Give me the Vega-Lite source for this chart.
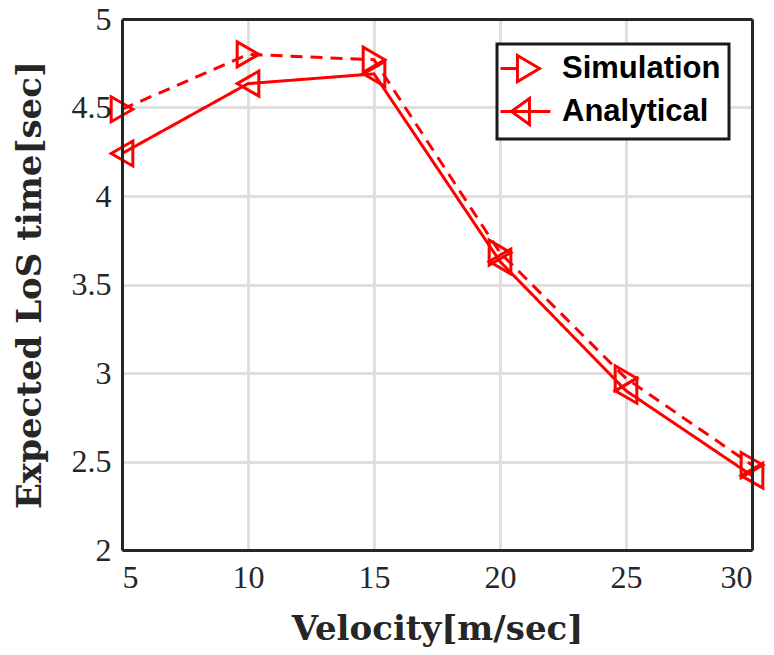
{
  "$schema": "https://vega.github.io/schema/vega-lite/v6.json",
  "autosize": "none",
  "width": 630,
  "height": 531,
  "padding": {"left": 122, "top": 19, "right": 22, "bottom": 105},
  "background": "white",
  "config": {
    "view": {"stroke": null},
    "legend": {"strokeWidth": 3},
    "axis": {
      "domainColor": "#262626",
      "domainWidth": 3,
      "tickColor": "#262626",
      "tickWidth": 3,
      "gridColor": "#dfdfdf",
      "gridWidth": 3,
      "labelFont": "Liberation Serif",
      "labelFontSize": 32,
      "labelColor": "#262626",
      "titleFont": "DejaVu Serif",
      "titleFontWeight": "bold",
      "titleFontSize": 34,
      "titleColor": "#262626"
    }
  },
  "data": {
    "values": [
      {"v": 5, "series": "Simulation", "t": 4.49},
      {"v": 10, "series": "Simulation", "t": 4.80},
      {"v": 15, "series": "Simulation", "t": 4.77},
      {"v": 20, "series": "Simulation", "t": 3.68},
      {"v": 25, "series": "Simulation", "t": 2.97},
      {"v": 30, "series": "Simulation", "t": 2.48},
      {"v": 5, "series": "Analytical", "t": 4.24},
      {"v": 10, "series": "Analytical", "t": 4.635},
      {"v": 15, "series": "Analytical", "t": 4.69},
      {"v": 20, "series": "Analytical", "t": 3.63},
      {"v": 25, "series": "Analytical", "t": 2.90},
      {"v": 30, "series": "Analytical", "t": 2.42}
    ]
  },
  "resolve": {"axis": {"x": "independent", "y": "independent"}},
  "layer": [
    {
      "mark": {"type": "point", "opacity": 0},
      "encoding": {
        "x": {
          "field": "v", "type": "quantitative",
          "scale": {"domain": [5, 30], "nice": false},
          "axis": {"orient": "bottom", "values": [5, 10, 15, 20, 25, 30], "grid": true, "domain": false, "ticks": false, "labels": false, "title": null, "zindex": 0}
        },
        "y": {
          "field": "t", "type": "quantitative",
          "scale": {"domain": [2, 5], "nice": false, "zero": false},
          "axis": {"orient": "left", "values": [2, 2.5, 3, 3.5, 4, 4.5, 5], "grid": true, "domain": false, "ticks": false, "labels": false, "title": null, "zindex": 0}
        }
      }
    },
    {
      "resolve": {"scale": {"shape": "independent"}},
      "layer": [
        {
          "mark": {"type": "line", "color": "#ff0000", "strokeWidth": 3},
          "encoding": {
            "x": {
              "field": "v", "type": "quantitative",
              "axis": {"orient": "bottom", "values": [5, 10, 15, 20, 25, 30], "title": "Velocity[m/sec]", "ticks": false, "labelPadding": 12, "titlePadding": 19, "grid": false, "zindex": 1}
            },
            "y": {
              "field": "t", "type": "quantitative",
              "axis": {"orient": "left", "values": [2, 2.5, 3, 3.5, 4, 4.5, 5], "format": "~g", "title": "Expected LoS time[sec]", "ticks": false, "labelPadding": 11, "titlePadding": 24, "grid": false, "zindex": 1}
            },
            "strokeDash": {
              "field": "series", "type": "nominal",
              "scale": {"domain": ["Simulation", "Analytical"], "range": [[12, 8], [1, 0]]},
              "legend": null
            }
          }
        },
        {
          "mark": {"type": "point", "filled": false, "color": "#ff0000", "strokeWidth": 3, "size": 625, "opacity": 1},
          "encoding": {
            "x": {"field": "v", "type": "quantitative"},
            "y": {"field": "t", "type": "quantitative"},
            "shape": {
              "field": "series", "type": "nominal",
              "scale": {"domain": ["Simulation", "Analytical"], "range": ["triangle-right", "triangle-left"]},
              "legend": null
            }
          }
        },
        {
          "transform": [{"filter": "false"}],
          "mark": {"type": "point", "filled": false, "color": "#ff0000", "strokeWidth": 3, "opacity": 1},
          "encoding": {
            "x": {"field": "v", "type": "quantitative"},
            "y": {"field": "t", "type": "quantitative"},
            "shape": {
              "field": "series", "type": "nominal",
              "scale": {"domain": ["Simulation", "Analytical"], "range": ["M-1.4,0H-0.2M-0.27,-0.87L1.2,0L-0.27,0.87Z", "M-1.4,0H1.93M-0.67,0L0.53,-0.87L0.53,0.87Z"]},
              "legend": {
                "title": null,
                "orient": "none",
                "legendX": 375,
                "legendY": 25,
                "padding": 8,
                "fillColor": "white",
                "strokeColor": "#1a1a1a",
                "symbolSize": 900,
                "symbolStrokeWidth": 3,
                "symbolStrokeColor": "#ff0000",
                "symbolFillColor": "transparent",
                "labelFont": "Liberation Sans",
                "labelFontWeight": "bold",
                "labelFontSize": 31,
                "labelColor": "#000000",
                "labelOffset": 24,
                "rowPadding": 4,
                "encode": {
                  "legend": {"update": {"strokeWidth": {"value": 3}}}
                }
              }
            }
          }
        }
      ]
    },
    {
      "mark": {"type": "point", "opacity": 0},
      "encoding": {
        "x": {
          "field": "v", "type": "quantitative",
          "axis": {"orient": "top", "values": [5, 10, 15, 20, 25, 30], "ticks": false, "labels": false, "title": null, "grid": false, "zindex": 1}
        },
        "y": {
          "field": "t", "type": "quantitative",
          "axis": {"orient": "right", "values": [2, 2.5, 3, 3.5, 4, 4.5, 5], "ticks": false, "labels": false, "title": null, "grid": false, "zindex": 1}
        }
      }
    }
  ]
}
